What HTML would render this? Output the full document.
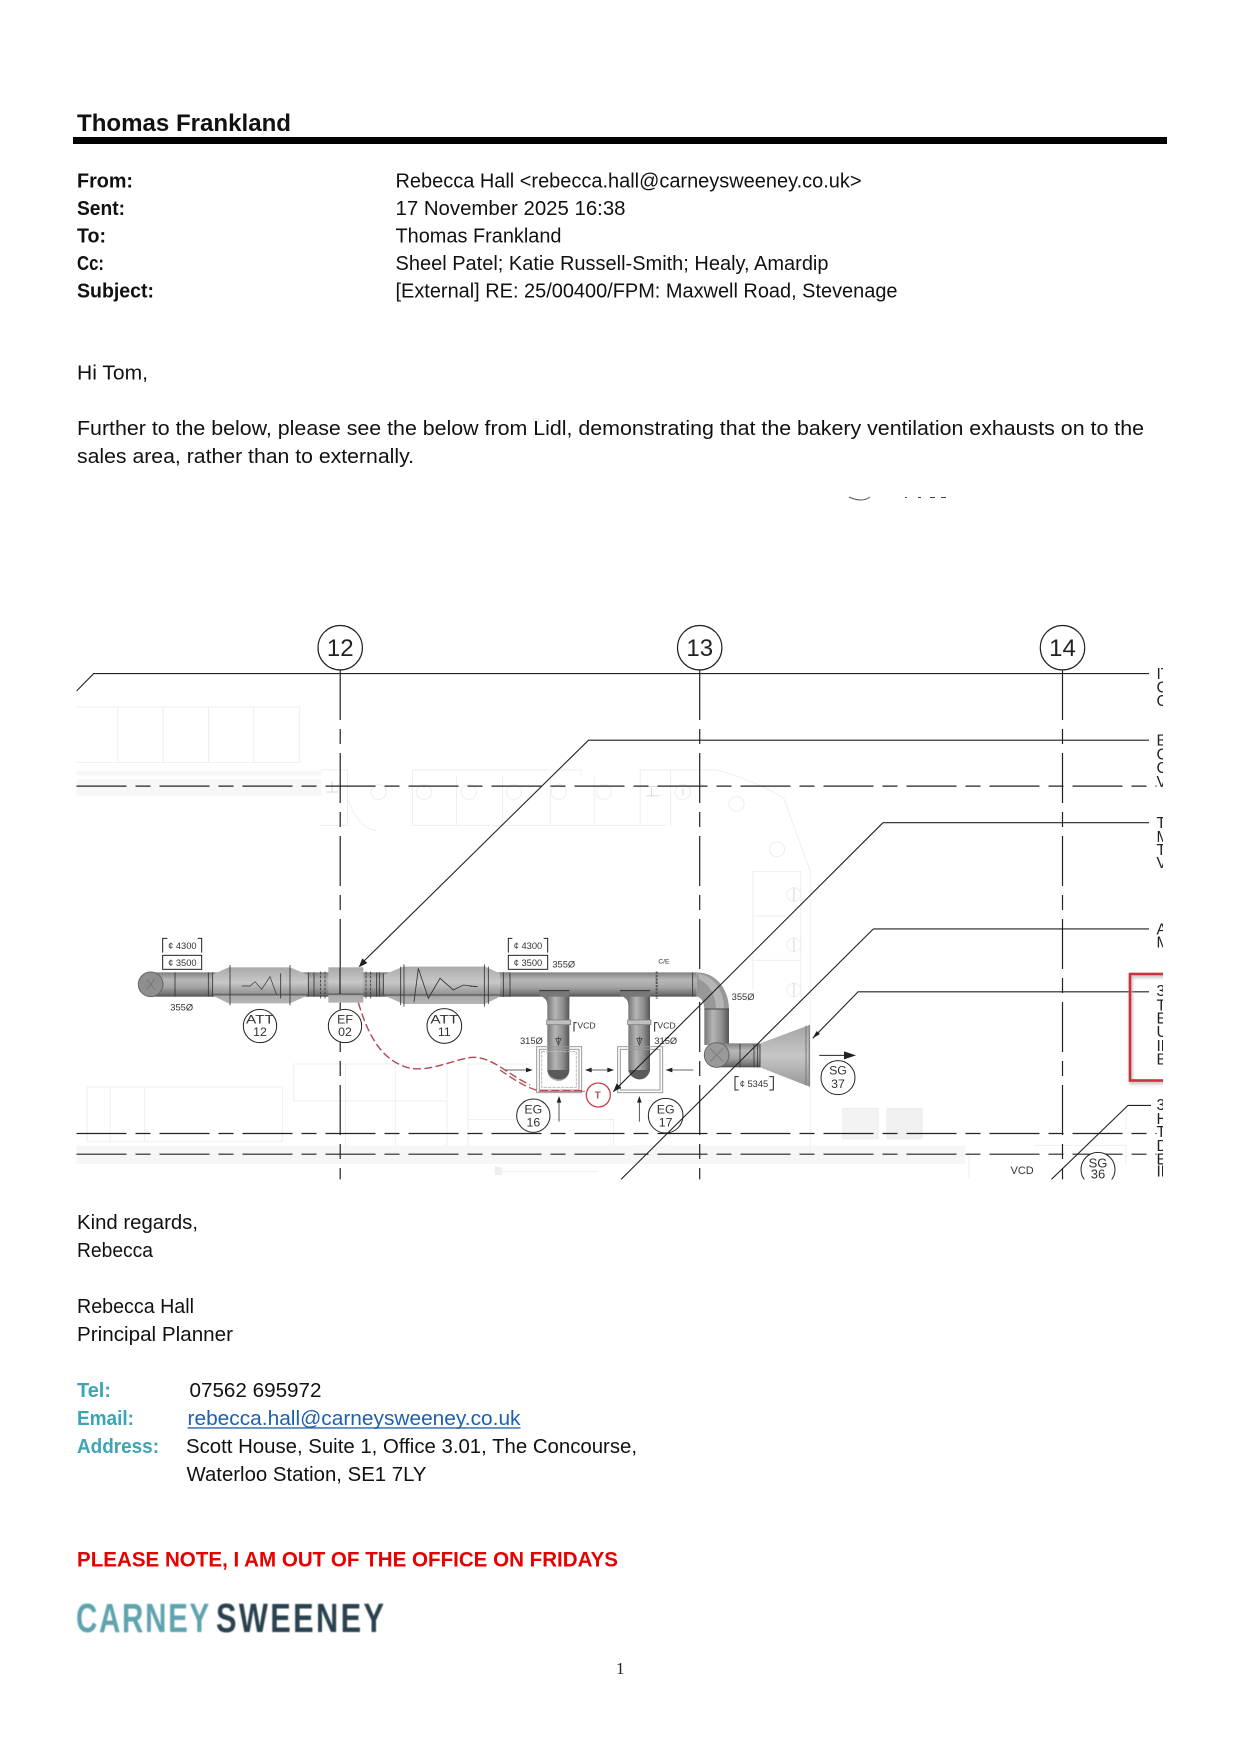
<!DOCTYPE html>
<html><head><meta charset="utf-8"><style>
html,body{margin:0;padding:0;background:#fff}
svg{display:block}
text{font-family:"Liberation Sans",sans-serif}
.b{font-size:20px;fill:#111}
.h{font-size:20px;font-weight:700;fill:#111}
.t{font-size:20px;font-weight:700;fill:#3aa6b4}
.s{font-size:37px;fill:#333;text-anchor:middle}
.c{fill:#fff;stroke:#222;stroke-width:3}
.l{fill:none;stroke:#222;stroke-width:1.1}
.d{fill:none;stroke:#222;stroke-width:1.2;stroke-dasharray:50 9 15 9}
.f{fill:none;stroke:#eee;stroke-width:2.6}
.r{font-size:15.5px;fill:#222}
</style></head><body>
<svg width="1241" height="1755" viewBox="0 0 1241 1755" xmlns="http://www.w3.org/2000/svg">
<defs>
<linearGradient id="dh" x1="0" y1="0" x2="0" y2="1"><stop offset="0" stop-color="#808080"/><stop offset=".3" stop-color="#b7b7b7"/><stop offset=".6" stop-color="#a6a6a6"/><stop offset=".9" stop-color="#707070"/><stop offset="1" stop-color="#4f4f4f"/></linearGradient>
<linearGradient id="ds" x1="0" y1="0" x2="0" y2="1"><stop offset="0" stop-color="#aaa"/><stop offset=".42" stop-color="#c8c8c8"/><stop offset=".72" stop-color="#979797"/><stop offset=".76" stop-color="#5a5a5a"/><stop offset=".8" stop-color="#aaa"/><stop offset="1" stop-color="#b4b4b4"/></linearGradient>
<linearGradient id="dv" x1="0" y1="0" x2="1" y2="0"><stop offset="0" stop-color="#767676"/><stop offset=".35" stop-color="#b5b5b5"/><stop offset=".7" stop-color="#8f8f8f"/><stop offset="1" stop-color="#555"/></linearGradient>
<linearGradient id="bell" x1="0" y1="0" x2="0" y2="1"><stop offset="0" stop-color="#a4a4a4"/><stop offset=".5" stop-color="#c6c6c6"/><stop offset="1" stop-color="#999"/></linearGradient>
<clipPath id="dia"><rect x="76.5" y="620" width="1086.5" height="559.4"/></clipPath>
<filter id="sh" x="-10%" y="-10%" width="120%" height="120%"><feGaussianBlur stdDeviation="1.5"/></filter>
<filter id="bl" x="-5%" y="-5%" width="110%" height="110%"><feGaussianBlur stdDeviation=".6"/></filter>
</defs>
<rect width="1241" height="1755" fill="#fff"/>

<!-- header -->
<text x="77" y="131" font-size="24" font-weight="700" fill="#111" textLength="214" lengthAdjust="spacingAndGlyphs">Thomas Frankland</text>
<rect x="73" y="137" width="1094" height="7" fill="#000"/>
<text class="h" x="77" y="187.3" textLength="56" lengthAdjust="spacingAndGlyphs">From:</text>
<text class="h" x="77" y="215" textLength="48" lengthAdjust="spacingAndGlyphs">Sent:</text>
<text class="h" x="77" y="242.3" textLength="29" lengthAdjust="spacingAndGlyphs">To:</text>
<text class="h" x="77" y="270" textLength="27" lengthAdjust="spacingAndGlyphs">Cc:</text>
<text class="h" x="77" y="297.3" textLength="77" lengthAdjust="spacingAndGlyphs">Subject:</text>
<text class="b" x="395.5" y="187.3" textLength="466" lengthAdjust="spacingAndGlyphs">Rebecca Hall &lt;rebecca.hall@carneysweeney.co.uk&gt;</text>
<text class="b" x="395.5" y="215" textLength="230" lengthAdjust="spacingAndGlyphs">17 November 2025 16:38</text>
<text class="b" x="395.5" y="242.3" textLength="166" lengthAdjust="spacingAndGlyphs">Thomas Frankland</text>
<text class="b" x="395.5" y="270" textLength="433" lengthAdjust="spacingAndGlyphs">Sheel Patel; Katie Russell-Smith; Healy, Amardip</text>
<text class="b" x="395.5" y="297.3" textLength="502" lengthAdjust="spacingAndGlyphs">[External] RE: 25/00400/FPM: Maxwell Road, Stevenage</text>
<text class="b" x="77" y="379.3" textLength="71" lengthAdjust="spacingAndGlyphs">Hi Tom,</text>
<text class="b" x="77" y="435" textLength="1067" lengthAdjust="spacingAndGlyphs">Further to the below, please see the below from Lidl, demonstrating that the bakery ventilation exhausts on to the</text>
<text class="b" x="77" y="463" textLength="337" lengthAdjust="spacingAndGlyphs">sales area, rather than to externally.</text>

<!-- cropped fragment above diagram -->
<path d="M849 497Q862 503 870 497" fill="none" stroke="#555" stroke-width="1"/>
<path d="M905 497.5h2M918 497.5h3M930 497.5h5M941 497.5h5" stroke="#444" stroke-width="1"/>

<!-- diagram -->
<g clip-path="url(#dia)">
<!-- faint background G2 -->
<g transform="translate(70 620) scale(.3827 .37)">
<rect x="17" y="408" width="640" height="12" fill="#f6f6f6"/><rect x="17" y="430" width="640" height="46" fill="#f7f7f7"/>
<rect x="17" y="1420" width="1560" height="50" fill="#f6f6f6"/>
<g>
<path class="f" d="M17 235H600V385H17M125 235V385M243 235V385M362 235V385M480 235V385"/>
<path class="f" d="M655 405H725V555H655M725 480Q750 560 800 570M895 405H1335V420M895 405V555H1490M1010 420V555M1130 420V555M1255 420V555M1370 420V555M1490 405H1568M1490 405V555"/>
<circle class="f" cx="807" cy="465" r="20"/><circle class="f" cx="925" cy="465" r="20"/><circle class="f" cx="1042" cy="465" r="20"/><circle class="f" cx="1160" cy="465" r="20"/><circle class="f" cx="1277" cy="465" r="20"/><circle class="f" cx="1395" cy="465" r="20"/>
<path class="f" d="M585 1200H985V1420M585 1200V1300H985M720 1200V1420M850 1200V1420M45 1262H555V1410H45ZM105 1262V1410M195 1262V1410M1040 1200H1200M1040 1200V1420M1040 1350H1420V1420M1110 1490H1380"/>
<path d="M670 465H700M1505 450H1540M1505 475H1540M685 435V465" stroke="#ddd" stroke-width="3"/>
<path d="M1110 1475V1500H1130V1480Z" fill="#eee"/>
</g></g>
<!-- faint background G3 -->
<g transform="translate(640 620) scale(.3827 .37)">
<rect x="-10" y="1420" width="860" height="50" fill="#f6f6f6"/>
<path class="f" d="M0 405H200Q290 430 375 480L445 680V1440M0 555H70M80 405V555M295 680H420V1030M295 680V1000M295 800H420M295 920H420M860 1440V1510M1030 1420H1270V1470M1270 1310V1380"/>
<circle class="f" cx="112" cy="465" r="20"/><circle class="f" cx="252" cy="497" r="20"/><circle class="f" cx="358" cy="620" r="20"/><circle class="f" cx="402" cy="742" r="18"/><circle class="f" cx="402" cy="878" r="18"/><circle class="f" cx="402" cy="1000" r="18"/>
<path d="M402 722V762M402 858V898M402 980V1020M30 452V478M112 455V475" stroke="#ddd" stroke-width="3"/>
<rect x="530" y="1320" width="92" height="82" fill="#f3f3f3" stroke="#eee" stroke-width="3"/><rect x="645" y="1320" width="92" height="82" fill="#f0f0f0" stroke="#eee" stroke-width="3"/>
</g>

<!-- grid lines -->
<path class="d" d="M340.2 670V1180M699.7 670V1180M1062.5 670V1180"/>
<path class="d" d="M76.5 786.1H1156.6M76.5 1133.5H1156.6M76.5 1154.2H1156.6"/>
<path class="l" d="M76.5 691L93.7 673.6H1149"/>
<path class="l" d="M1149 740.2H588.5L362 963"/>
<path class="l" d="M1149 822.7H883M1149 928.9H873.4M1149 991.8H858.1L812.7 1038.3"/>
<path class="l" d="M1151 1105.4H1128L1051.4 1179.4"/>
<circle class="c" style="stroke-width:1.2" cx="340.2" cy="647.7" r="22.2"/><text x="340.2" y="656" font-size="24" text-anchor="middle" fill="#222">12</text>
<circle class="c" style="stroke-width:1.2" cx="699.7" cy="647.7" r="22.2"/><text x="699.7" y="656" font-size="24" text-anchor="middle" fill="#222">13</text>
<circle class="c" style="stroke-width:1.2" cx="1062.5" cy="647.7" r="22.2"/><text x="1062.5" y="656" font-size="24" text-anchor="middle" fill="#222">14</text>

<!-- right labels -->
<text class="r" x="1156.5" y="679.1">IT</text><text class="r" x="1156.5" y="692.5">C</text><text class="r" x="1156.5" y="705.8">C</text>
<text class="r" x="1156.5" y="745.7">B</text><text class="r" x="1156.5" y="759.4">C</text><text class="r" x="1156.5" y="773.1">C</text><text class="r" x="1156.5" y="786.8">V</text>
<text class="r" x="1156.5" y="828.2">T</text><text class="r" x="1156.5" y="841.9">M</text><text class="r" x="1156.5" y="854.9">T</text><text class="r" x="1156.5" y="868.2">V</text>
<text class="r" x="1156.5" y="934.4">A</text><text class="r" x="1156.5" y="947.7">M</text>
<text class="r" x="1156.5" y="996">3</text><text class="r" x="1156.5" y="1010.3">T</text><text class="r" x="1156.5" y="1023.6">E</text><text class="r" x="1156.5" y="1036.9">U</text><text class="r" x="1156.5" y="1050.9">IN</text><text class="r" x="1156.5" y="1064.3">B</text>
<text class="r" x="1156.5" y="1110.1">3</text><text class="r" x="1156.5" y="1123.8">H</text><text class="r" x="1156.5" y="1137.1">T</text><text class="r" x="1156.5" y="1150.8">D</text><text class="r" x="1156.5" y="1164.5">E</text><text class="r" x="1156.5" y="1176.7">IN</text>
<rect x="1130" y="974" width="60" height="106.5" fill="none" stroke="#b9b9b9" stroke-width="3" filter="url(#sh)" transform="translate(1 2)"/>
<rect x="1130" y="974" width="60" height="106.5" fill="none" stroke="#c9333b" stroke-width="2.6"/>

<!-- duct left part G4 -->
<g transform="translate(130 930) scale(.33333)">
<rect x="60" y="127" width="1080" height="73" fill="url(#dh)"/>
<path d="M245 135L295 112H480L535 135V195L480 220H295L245 195Z" fill="url(#ds)"/>
<path d="M760 135L820 110H1065L1120 135V195L1065 222H820L760 195Z" fill="url(#ds)"/>
<rect x="595" y="112" width="105" height="106" fill="url(#ds)"/>
<circle cx="62" cy="163" r="37" fill="#8f8f8f" stroke="#666" stroke-width="3"/>
<path d="M50 148L62 163L50 178M74 148L62 163L74 178" fill="none" stroke="#777" stroke-width="3"/>
<g fill="none" stroke="#333" stroke-width="2.5">
<path d="M135 127V200M235 127V200M248 127V200M300 105V226M480 105V226M452 130V205M535 127V200M552 127V200M740 127V200M748 127V200M760 130V195M822 103V230M812 110V225M1063 103V230M1075 110V222M1120 127V200"/>
<path d="M572 125V205M585 125V205M708 125V205M722 125V205" stroke-dasharray="8 4"/>
<path d="M335 168H360L375 155L395 178L420 140L440 195" stroke-width="2"/>
<path d="M852 216L865 115L895 205L930 145L970 180L1000 165L1040 170" stroke-width="2.5"/>
<path d="M1020 170H1045" stroke-dasharray="4 6" stroke-width="2"/>
</g>
<path d="M630 112V192" stroke="#222" stroke-width="3.6"/>
<path d="M686 112L697 85L712 99Z" fill="#222"/>
<!-- red curve -->
<path d="M685 218C710 300 745 385 830 412C900 432 985 380 1035 382C1090 385 1130 430 1200 465" fill="none" stroke="#b3484f" stroke-width="4.2" stroke-dasharray="24 10"/>
<!-- bubbles -->
<g class="c"><circle cx="390" cy="288" r="50"/><circle cx="645" cy="288" r="50"/><circle cx="943" cy="288" r="52"/></g>
<text class="s" x="390" y="280" textLength="84" lengthAdjust="spacingAndGlyphs">ATT</text><text class="s" x="390" y="318">12</text>
<text class="s" x="645" y="280">EF</text><text class="s" x="645" y="318">02</text>
<text class="s" x="943" y="280" textLength="84" lengthAdjust="spacingAndGlyphs">ATT</text><text class="s" x="943" y="318">11</text>
<path d="M98 68V25H112M203 25H215V68" fill="none" stroke="#222" stroke-width="3"/><text x="157" y="57" font-size="28" text-anchor="middle" fill="#333">¢ 4300</text>
<rect x="98" y="76" width="117" height="42" fill="#fff" stroke="#222" stroke-width="3"/><text x="157" y="108" font-size="28" text-anchor="middle" fill="#333">¢ 3500</text>
<text x="155" y="241" font-size="28" text-anchor="middle" fill="#333">355Ø</text>
</g>

<!-- duct right part G5 -->
<g transform="translate(500 930) scale(.33333)">
<path d="M0 127H590V200H0Z" fill="url(#dh)"/>
<path d="M613 235H687V345H613Z" fill="url(#dv)"/>
<path d="M590 127C650 127 687 180 687 237H613C613 215 600 200 590 200Z" fill="#989898"/>
<path d="M596 132C640 137 672 180 672 235H648C648 190 620 155 596 148Z" fill="#c2c2c2" opacity=".7"/>
<rect x="650" y="340" width="130" height="72" fill="url(#dh)"/>
<circle cx="650" cy="375" r="37" fill="#999" stroke="#666" stroke-width="3"/>
<path d="M630 355L670 395M670 355L630 395" stroke="#777" stroke-width="2.5"/>
<path d="M780 340L915 290L930 285V470L915 465L780 412Z" fill="url(#bell)"/>
<path d="M918 287V466" stroke="#777" stroke-width="3"/><path d="M928 285V470" stroke="#888" stroke-width="4"/>
<path d="M720 342V412M762 342V412M773 342V412M780 342V412M578 127V200M613 237H687M10 127V200M30 127V200" fill="none" stroke="#333" stroke-width="2.5"/>
<path d="M470 125V207" stroke="#555" stroke-width="6" stroke-dasharray="7 3"/>
<!-- branches -->
<path d="M118 180H208V200L208 225H142C142 205 125 200 118 195Z" fill="#777"/><path d="M118 182H208" stroke="#333" stroke-width="3"/>
<path d="M142 200H208V420A33 33 0 0 1 142 420Z" fill="url(#dv)"/>
<rect x="140" y="270" width="72" height="14" fill="#c0c0c0" stroke="#777" stroke-width="2"/>
<path d="M175 320V338M167 325L175 345L183 325Z" fill="none" stroke="#333" stroke-width="2"/>
<path d="M360 180H450V225H385C385 205 368 200 360 195Z" fill="#777"/><path d="M360 182H450" stroke="#333" stroke-width="3"/>
<path d="M385 200H450V420A33 33 0 0 1 385 420Z" fill="url(#dv)"/>
<rect x="383" y="270" width="70" height="14" fill="#c0c0c0" stroke="#777" stroke-width="2"/>
<path d="M418 320V338M410 325L418 345L426 325Z" fill="none" stroke="#333" stroke-width="2"/>
<path d="M142 420C150 455 200 460 208 420Z M385 420C393 455 442 460 450 420Z" fill="#5a5a5a"/>
<!-- grilles -->
<g fill="none" stroke="#999" stroke-width="3">
<rect x="110" y="350" width="135" height="138"/><rect x="118" y="358" width="119" height="122"/><path d="M125 365H229V472H125Z" stroke="#bbb" stroke-dasharray="10 3"/>
<rect x="353" y="350" width="135" height="138"/><rect x="361" y="358" width="119" height="122"/>
</g>
<!-- arrows -->
<g fill="none" stroke="#333" stroke-width="2.5">
<path d="M15 420H92"/><path d="M258 420H338"/><path d="M580 420H500"/><path d="M177 575V503"/><path d="M418 575V503"/></g>
<path d="M98 420L78 413V427ZM255 420L275 413V427ZM342 420L322 413V427ZM497 420L517 413V427ZM177 498L170 518H184ZM418 498L411 518H425Z" fill="#222"/>
<path d="M958 376H1035" stroke="#222" stroke-width="3"/><path d="M1068 376L1032 364V388Z" fill="#222"/>
<path d="M938 325L950 303L960 312Z" fill="#222"/>
<path d="M340 485L350 460L364 474Z" fill="#222"/>
<!-- red -->
<path d="M0 420C30 440 70 470 115 482H250" fill="none" stroke="#b3484f" stroke-width="4" stroke-dasharray="24 10"/>
<path d="M115 484H255" fill="none" stroke="#c46" stroke-width="2.5"/>
<circle cx="295" cy="495" r="36" fill="#fff" stroke="#c9404a" stroke-width="4"/>
<text x="293" y="506" font-size="30" text-anchor="middle" fill="#9a5a5e" font-weight="700">T</text>
<!-- bubbles -->
<g class="c"><circle cx="100" cy="557" r="50"/><circle cx="497" cy="557" r="52" fill="none"/><circle cx="1014" cy="443" r="51"/></g>
<text class="s" x="100" y="550">EG</text><text class="s" x="100" y="590">16</text>
<text class="s" x="497" y="550">EG</text><text class="s" x="497" y="590">17</text>
<text class="s" x="1014" y="434">SG</text><text class="s" x="1014" y="474">37</text>
<path d="M25 68V25H37M131 25H143V68" fill="none" stroke="#222" stroke-width="3"/><text x="84" y="57" font-size="28" text-anchor="middle" fill="#333">¢ 4300</text>
<rect x="25" y="76" width="118" height="42" fill="#fff" stroke="#222" stroke-width="3"/><text x="84" y="108" font-size="28" text-anchor="middle" fill="#333">¢ 3500</text>
<path d="M716 480H705V440H716M808 440H820V480H808" fill="none" stroke="#222" stroke-width="3"/><text x="762" y="471" font-size="28" text-anchor="middle" fill="#333">¢ 5345</text>
<g font-size="28" fill="#333"><text x="157" y="112">355Ø</text><text x="695" y="210">355Ø</text><text x="60" y="342">315Ø</text><text x="463" y="342">315Ø</text><text x="232" y="295" font-size="26">VCD</text><text x="472" y="295" font-size="26">VCD</text><text x="475" y="100" font-size="20">C/E</text></g>
<path d="M222 305V278H230M464 305V278H472" fill="none" stroke="#222" stroke-width="3"/>
</g>
<!-- diagonals over duct -->
<path class="l" d="M883 822.7L613.3 1091.7M873.4 928.9L621 1179.4"/>
<!-- SG36 -->
<circle cx="1098" cy="1169.4" r="17" fill="#fff" stroke="#222" stroke-width="1"/>
<text x="1098" y="1167.5" font-size="13" text-anchor="middle" fill="#333">SG</text><text x="1098" y="1178.6" font-size="13" text-anchor="middle" fill="#333">36</text>
<text x="1010.5" y="1174" font-size="11" fill="#333">VCD</text>
</g>

<!-- footer -->
<text class="b" x="77" y="1229" textLength="121" lengthAdjust="spacingAndGlyphs">Kind regards,</text>
<text class="b" x="77" y="1257" textLength="76" lengthAdjust="spacingAndGlyphs">Rebecca</text>
<text class="b" x="77" y="1313" textLength="117" lengthAdjust="spacingAndGlyphs">Rebecca Hall</text>
<text class="b" x="77" y="1341" textLength="156" lengthAdjust="spacingAndGlyphs">Principal Planner</text>
<text class="t" x="77" y="1397" textLength="34" lengthAdjust="spacingAndGlyphs">Tel:</text>
<text class="b" x="189.5" y="1397" textLength="132" lengthAdjust="spacingAndGlyphs">07562 695972</text>
<text class="t" x="77" y="1425" textLength="57" lengthAdjust="spacingAndGlyphs">Email:</text>
<text class="b" x="187.5" y="1425" textLength="333" lengthAdjust="spacingAndGlyphs" style="fill:#1f5fb0">rebecca.hall@carneysweeney.co.uk</text>
<rect x="187.5" y="1427.3" width="333" height="1.3" fill="#1f5fb0"/>
<text class="t" x="77" y="1453" textLength="82" lengthAdjust="spacingAndGlyphs">Address:</text>
<text class="b" x="186" y="1453" textLength="451" lengthAdjust="spacingAndGlyphs">Scott House, Suite 1, Office 3.01, The Concourse,</text>
<text class="b" x="186.5" y="1481" textLength="240" lengthAdjust="spacingAndGlyphs">Waterloo Station, SE1 7LY</text>
<text x="77" y="1566.7" font-size="21.5" font-weight="700" fill="#e60000" textLength="541" lengthAdjust="spacingAndGlyphs">PLEASE NOTE, I AM OUT OF THE OFFICE ON FRIDAYS</text>
<g filter="url(#bl)" font-size="41" font-weight="700">
<text transform="translate(76 1632) scale(.72 1)" x="0" y="0" fill="#5fa3ae" textLength="185">CARNEY</text>
<text transform="translate(216 1632) scale(.75 1)" x="0" y="0" fill="#2c4250" textLength="224">SWEENEY</text>
</g>
<text x="616" y="1674" font-size="17" fill="#222" style="font-family:'Liberation Serif',serif">1</text>
</svg>
</body></html>
